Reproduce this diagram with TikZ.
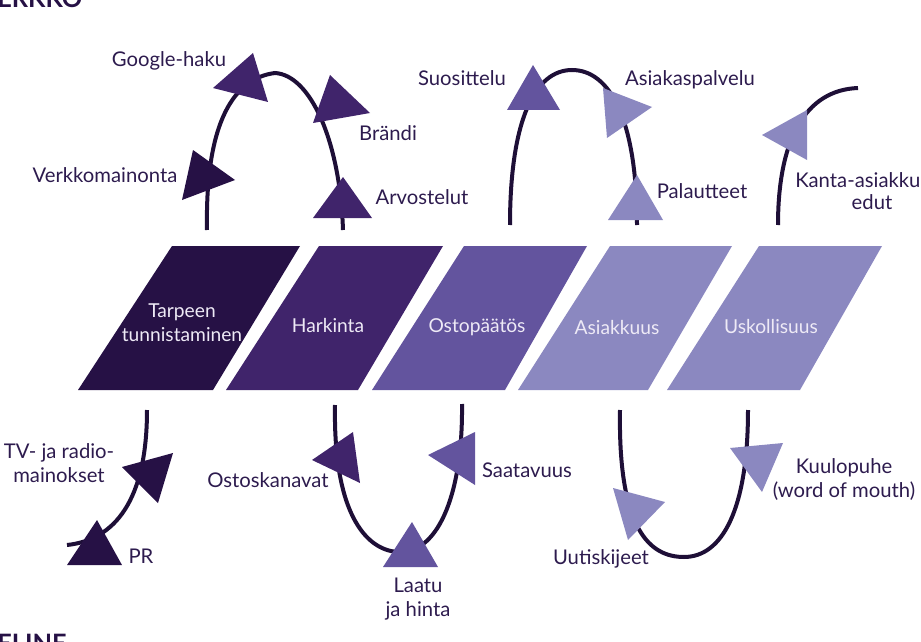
\documentclass[tikz,border=0pt]{standalone}
\usepackage{fontspec}
\setmainfont{Lato}
\definecolor{vaihe1}{HTML}{261145}
\definecolor{vaihe2}{HTML}{40246B}
\definecolor{vaihe3}{HTML}{63549E}
\definecolor{vaihe4}{HTML}{8B88C0}
\definecolor{kaariviiva}{HTML}{1E0F37}
\definecolor{tekstivari}{HTML}{2D1B4E}
\definecolor{vaaleateksti}{HTML}{EEEAF6}
\tikzset{
  lbl/.style={text=tekstivari,font=\fontsize{15.2}{17.3}\selectfont,inner sep=0pt,align=center,anchor=base},
  phase/.style={text=vaaleateksti,font=\fontsize{14.4}{17.3}\selectfont,inner sep=0pt,align=center,anchor=base},
  kaari/.style={draw=kaariviiva,line width=3pt},
  otsikko/.style={text=vaihe1,font=\fontsize{19}{22}\selectfont\bfseries,inner sep=0pt,anchor=base west}
}

\begin{document}
\begin{tikzpicture}[x=0.75pt,y=-0.75pt]
 \useasboundingbox (0,0) rectangle (921,642);
 \clip (0,0) rectangle (921,642);
 \node[otsikko] (ylaotsikko) at (-3,8) {ERKKO};
 \node[otsikko] (alaotsikko) at (-3,652) {ELINE};
 % vaiheet
 \fill[vaihe1] (78,390) -- (172,246) -- (300,246) -- (213,390) -- cycle;
 \fill[vaihe2] (226,390) -- (319,246) -- (443,246) -- (358,390) -- cycle;
 \fill[vaihe3] (372,390) -- (464,246) -- (587,246) -- (505,390) -- cycle;
 \fill[vaihe4] (518,390) -- (610,246) -- (732,246) -- (648,390) -- cycle;
 \fill[vaihe4] (667,390) -- (759,246) -- (882,246) -- (800,390) -- cycle;
 \node[phase] (tarve) at (182,341) {Tarpeen\\tunnistaminen};
 \node[phase] (harkinta) at (328,332) {Harkinta};
 \node[phase] (ostopaatos) at (477,332) {Ostopäätös};
 \node[phase] (asiakkuus) at (617,334) {Asiakkuus};
 \node[phase] (uskollisuus) at (771,333) {Uskollisuus};
 % kaaret
 \draw[kaari] (207,230) .. controls (205,120) and (235,78) .. (275,73) .. controls (310,75) and (340,140) .. (343,230);
 \draw[kaari] (510,225) .. controls (510,120) and (535,70) .. (572,70) .. controls (610,70) and (637,120) .. (637,225);
 \draw[kaari] (778,225) .. controls (778,140) and (805,90) .. (858,88);
 \draw[kaari] (147,410) .. controls (147,500) and (115,540) .. (67,545);
 \draw[kaari] (335,405) .. controls (333,520) and (370,552) .. (400,552) .. controls (440,552) and (463,490) .. (462,404);
 \draw[kaari] (620,410) .. controls (618,530) and (650,557) .. (684,557) .. controls (722,557) and (748,510) .. (748,410);
 % nuolenkarjet
 \fill[vaihe1] (193,150) -- (235,180) -- (182,200) -- cycle;
 \fill[vaihe2] (253,53) -- (268,102) -- (213,88) -- cycle;
 \fill[vaihe2] (330,75) -- (370,113) -- (313,123) -- cycle;
 \fill[vaihe2] (343,177) -- (372,218) -- (313,218) -- cycle;
 \fill[vaihe3] (533,65) -- (560,110) -- (507,110) -- cycle;
 \fill[vaihe4] (603,88) -- (652,107) -- (607,138) -- cycle;
 \fill[vaihe4] (637,175) -- (663,220) -- (608,220) -- cycle;
 \fill[vaihe4] (807,110) -- (807,160) -- (762,135) -- cycle;
 \fill[vaihe1] (173,453) -- (158,503) -- (122,467) -- cycle;
 \fill[vaihe1] (97,520) -- (122,565) -- (67,565) -- cycle;
 \fill[vaihe2] (353,432) -- (360,483) -- (312,460) -- cycle;
 \fill[vaihe3] (475,432) -- (475,485) -- (428,455) -- cycle;
 \fill[vaihe3] (412,522) -- (438,567) -- (383,567) -- cycle;
 \fill[vaihe4] (613,488) -- (665,502) -- (628,540) -- cycle;
 \fill[vaihe4] (730,448) -- (783,443) -- (762,492) -- cycle;
 % tekstit
 \node[lbl] (google) at (169,67) {Google-haku};
 \node[lbl] (verkko) at (105,182) {Verkkomainonta};
 \node[lbl] (brandi) at (388,141) {Brändi};
 \node[lbl] (arvostelut) at (422,204) {Arvostelut};
 \node[lbl] (suosittelu) at (462,85) {Suosittelu};
 \node[lbl] (asiakaspalvelu) at (690,85) {Asiakaspalvelu};
 \node[lbl] (palautteet) at (702,198) {Palautteet};
 \node[lbl,anchor=base west] (kanta) at (795,187) {Kanta-asiakku};
 \node[lbl] (edut) at (872,209) {edut};
 \node[lbl] (tvradio) at (59,482) {TV- ja radio-\\mainokset};
 \node[lbl] (pr) at (141,563) {PR};
 \node[lbl] (ostoskanavat) at (268,487) {Ostoskanavat};
 \node[lbl] (saatavuus) at (527,477) {Saatavuus};
 \node[lbl] (laatu) at (418,616) {Laatu\\ja hinta};
 \node[lbl] (uutiskijeet) at (601,564) {Uutiskijeet};
 \node[lbl] (kuulopuhe) at (844,497) {Kuulopuhe\\(word of mouth)};
\end{tikzpicture}
\end{document}
